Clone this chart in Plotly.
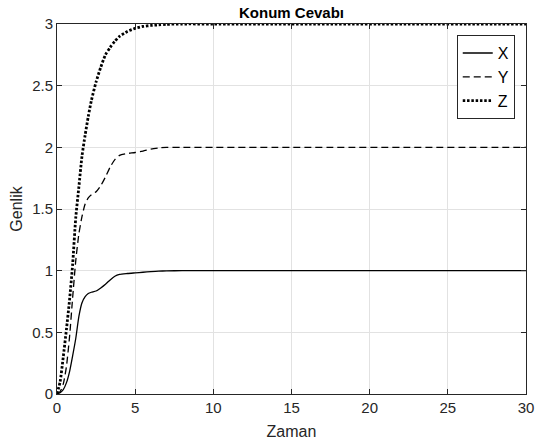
import plotly.graph_objects as go

# Data
t = [0, 0.2, 0.4, 0.6, 0.8, 1.0, 1.2, 1.4, 1.6, 1.8, 2.0, 2.2, 2.5, 2.8, 3.1, 3.4,
     3.7, 4.0, 4.5, 5.0, 5.5, 6.0, 6.5, 7.0, 8.0, 10.0, 30.0]
x_vals = [0, 0.01, 0.035, 0.09, 0.18, 0.31, 0.45, 0.63, 0.74, 0.79, 0.815, 0.825, 0.835,
          0.86, 0.89, 0.925, 0.955, 0.97, 0.977, 0.982, 0.987, 0.992, 0.996, 0.998,
          1.0, 1.0, 1.0]
y_vals = [0, 0.02, 0.08, 0.22, 0.46, 0.78, 1.08, 1.3, 1.44, 1.54, 1.59, 1.615, 1.64,
          1.69, 1.76, 1.84, 1.9, 1.935, 1.95, 1.958, 1.97, 1.985, 1.995, 2.0,
          2.0, 2.0, 2.0]
z_vals = [0, 0.1, 0.3, 0.52, 0.76, 1.05, 1.43, 1.68, 1.93, 2.1, 2.25, 2.38, 2.53,
          2.65, 2.75, 2.81, 2.86, 2.9, 2.94, 2.965, 2.98, 2.988, 2.993, 2.997,
          3.0, 3.0, 3.0]
names = ["X", "Y", "Z"]

x_ticks = [0, 5, 10, 15, 20, 25, 30]
y_ticks = [0, 0.5, 1, 1.5, 2, 2.5, 3]
y_tick_text = ["0", "0.5", "1", "1.5", "2", "2.5", "3"]

FONT = "Liberation Sans, Arial, sans-serif"
AX = "#262626"

fig = go.Figure()
fig.add_trace(go.Scatter(x=t, y=x_vals, name=names[0], mode="lines",
                         line=dict(color="black", width=1.3, shape="spline", smoothing=0.6)))
fig.add_trace(go.Scatter(x=t, y=y_vals, name=names[1], mode="lines",
                         line=dict(color="black", width=1.3, dash="7px,4px", shape="spline", smoothing=0.6)))
fig.add_trace(go.Scatter(x=t, y=z_vals, name=names[2], mode="lines",
                         line=dict(color="black", width=2.8, dash="2.5px,1.8px", shape="spline", smoothing=0.6)))

fig.update_layout(
    width=535, height=448,
    margin=dict(l=57, r=9, t=24, b=54, autoexpand=False),
    paper_bgcolor="white", plot_bgcolor="white",
    font=dict(family=FONT, color=AX),
    title=dict(text="<b>Konum Cevabı</b>", x=(57 + 526) / 2 / 535, xanchor="center",
               y=1 - 13 / 448, yanchor="middle", yref="container",
               font=dict(size=15, color="black", family=FONT)),
    showlegend=True,
    legend=dict(x=0.976, xanchor="right", y=0.97, yanchor="top",
                bgcolor="white", bordercolor=AX, borderwidth=1,
                font=dict(size=16, color="black", family=FONT)),
)
fig.update_xaxes(range=[0, 30], tickvals=x_ticks, ticks="inside", ticklen=5, automargin=False,
                 tickcolor=AX, showline=True, linecolor=AX, linewidth=1, mirror="ticks",
                 showgrid=True, gridcolor="#e2e2e2", gridwidth=1, zeroline=False,
                 tickfont=dict(size=15, color=AX),
                 title=dict(text="Zaman", font=dict(size=16, color=AX), standoff=10))
fig.update_yaxes(range=[0, 3], tickvals=y_ticks, ticktext=y_tick_text, ticks="inside", ticklen=5,
                 automargin=False,
                 tickcolor=AX, showline=True, linecolor=AX, linewidth=1, mirror="ticks",
                 showgrid=True, gridcolor="#e2e2e2", gridwidth=1, zeroline=False,
                 tickfont=dict(size=15, color=AX),
                 title=dict(text="Genlik", font=dict(size=16, color=AX), standoff=5))

fig.write_html("out.html")
